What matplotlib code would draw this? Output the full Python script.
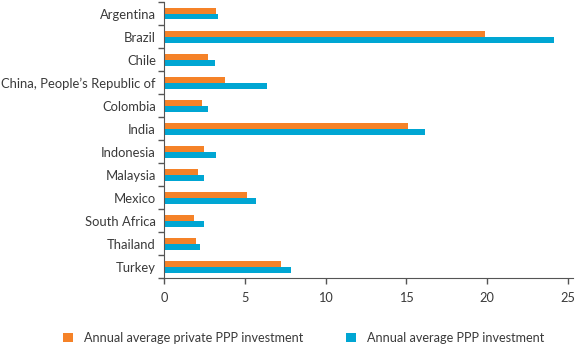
import matplotlib
matplotlib.use("Agg")
import matplotlib.pyplot as plt
import numpy as np

countries = ["Argentina", "Brazil", "Chile", "China, People\u2019s Republic of", "Colombia",
             "India", "Indonesia", "Malaysia", "Mexico", "South Africa", "Thailand", "Turkey"]
private_ppp = [3.18, 19.87, 2.73, 3.76, 2.36, 15.12, 2.44, 2.07, 5.14, 1.86, 1.98, 7.23]
total_ppp = [3.33, 24.16, 3.16, 6.38, 2.71, 16.17, 3.18, 2.44, 5.66, 2.46, 2.21, 7.85]
xticks = [0, 5, 10, 15, 20, 25]

ORANGE, BLUE = "#f58228", "#00a6d3"
INK, SPINE = "#3a3a3a", "#555555"

plt.rcParams.update({"font.family": ["Lato", "DejaVu Sans"], "font.size": 9})

fig = plt.figure(figsize=(5.79, 3.5), dpi=100)
ax = fig.add_axes([164.3 / 579, 71.7 / 350, 409 / 579, 276.3 / 350])

y = np.arange(len(countries))
h = 0.26
ax.barh(y - h / 2, private_ppp, height=h, color=ORANGE, label="Annual average private PPP investment")
ax.barh(y + h / 2, total_ppp, height=h, color=BLUE, label="Annual average PPP investment")

ax.set_ylim(len(countries) - 0.5, -0.5)
ax.set_xlim(0, 25.35)
ax.set_yticks(y, countries)
ax.set_yticks(np.arange(-0.5, len(countries)), minor=True)
ax.set_xticks(xticks)
ax.tick_params(axis="y", which="major", length=0, pad=6, labelcolor=INK, labelsize=9.4)
ax.tick_params(axis="y", which="minor", length=4, width=1, color=SPINE)
ax.tick_params(axis="x", length=4, width=1, color=SPINE, pad=6, labelcolor=INK, labelsize=9.2)
for s in ("top", "right"):
    ax.spines[s].set_visible(False)
for s in ("left", "bottom"):
    ax.spines[s].set_color(SPINE)

fig.legend(loc="center left", bbox_to_anchor=(63 / 579, 1 - 338 / 350), ncol=2, frameon=False,
           handlelength=0.8, handleheight=0.8, handletextpad=0.85, columnspacing=3.4,
           borderpad=0, borderaxespad=0, labelcolor=INK, fontsize=9.1)

fig.savefig("out.png", dpi=100)
